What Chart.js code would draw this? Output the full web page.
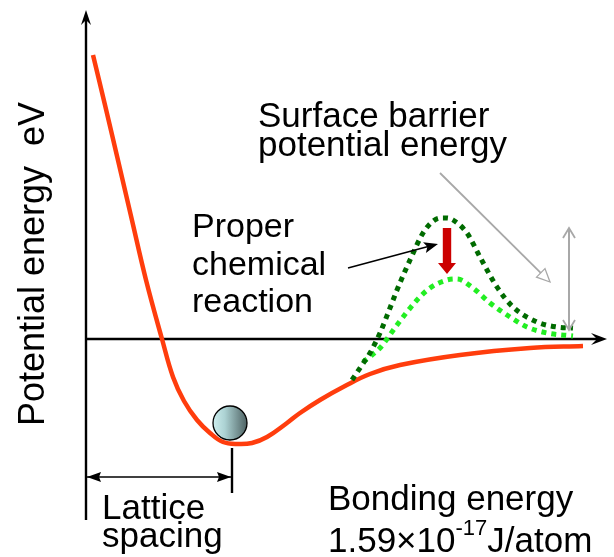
<!DOCTYPE html>
<html>
<head>
<meta charset="utf-8">
<script src="https://cdn.jsdelivr.net/npm/chart.js@4/dist/chart.umd.min.js"></script>
<style>
  html, body { margin: 0; padding: 0; background: #fff; }
  canvas { display: block; }
</style>
</head>
<body>
<canvas id="chart" width="614" height="557"></canvas>
<script>
// Interatomic potential energy versus separation (arbitrary units).
// x: atomic separation, y: potential energy (0 = free atom level)
const bondX = [0.07, 0.19, 0.31, 0.45, 0.60, 0.76, 0.87, 0.98, 1.11, 1.24, 1.37, 1.52,
               1.66, 1.81, 2.01, 2.14, 2.34, 2.59, 2.84, 3.14, 3.74, 4.44, 4.97];
const bondY = [2.84, 2.34, 1.83, 1.23, 0.59, 0.00, -0.38, -0.62, -0.81, -0.94, -1.03, -1.05,
               -1.04, -0.98, -0.84, -0.74, -0.61, -0.47, -0.35, -0.26, -0.16, -0.09, -0.07];

// Surface barrier before reaction
const barrierX = [2.66, 2.76, 2.84, 2.94, 3.04, 3.11, 3.24, 3.37, 3.46, 3.54, 3.61, 3.67,
                  3.81, 3.94, 4.11, 4.27, 4.51, 4.71, 4.87];
const barrierY = [-0.41, -0.26, -0.14, 0.06, 0.31, 0.49, 0.79, 1.06, 1.17, 1.21, 1.21, 1.19,
                  1.06, 0.82, 0.52, 0.32, 0.17, 0.12, 0.11];

// Lowered barrier with a proper chemical reaction
const loweredX = [2.77, 2.86, 2.94, 3.11, 3.31, 3.44, 3.61, 3.71, 3.87, 4.04, 4.21, 4.41, 4.61, 4.87];
const loweredY = [-0.23, -0.16, -0.09, 0.14, 0.39, 0.51, 0.59, 0.60, 0.51, 0.36, 0.24, 0.12, 0.06, 0.03];

// Equilibrium spacing (bottom of the well)
const latticeX = 1.46;

const FONT = '"Liberation Sans", Arial, Helvetica, sans-serif';
const RED = '#ff3d0d';
const DARK_GREEN = '#006b00';
const LIGHT_GREEN = '#22ee22';
const GREY = '#a8a8a8';

const toPoints = (xs, ys) => xs.map((x, i) => ({ x, y: ys[i] }));

// Annotation geometry, in data units
const notes = {
  yAxis: { x: 0, y0: -1.81, y1: 3.29 },
  xAxis: { y: 0, x0: 0, x1: 5.21 },
  lattice: { y: -1.38, tickTop: -1.09, tickBottom: -1.54 },
  ball: { x: 1.44, y: -0.84, r: 17 },
  drop: { x: 3.61, y0: 1.11, y1: 0.65 },
  pointer: { x0: 2.62, y0: 0.71, x1: 3.52, y1: 0.95 },
  diag: { x0: 3.54, y0: 1.66, x1: 4.64, y1: 0.57 },
  height: { x: 4.83, y0: 1.11, y1: 0.09 }
};

function stealthHead(ctx, x1, y1, x2, y2, len, half, notch, color) {
  const a = Math.atan2(y2 - y1, x2 - x1);
  const c = Math.cos(a), s = Math.sin(a);
  const bx = x2 - len * c, by = y2 - len * s;
  const nx = x2 - notch * c, ny = y2 - notch * s;
  ctx.beginPath();
  ctx.moveTo(x2, y2);
  ctx.lineTo(bx - half * s, by + half * c);
  ctx.lineTo(nx, ny);
  ctx.lineTo(bx + half * s, by - half * c);
  ctx.closePath();
  ctx.fillStyle = color;
  ctx.fill();
}

function line(ctx, x1, y1, x2, y2, color, w) {
  ctx.beginPath();
  ctx.moveTo(x1, y1);
  ctx.lineTo(x2, y2);
  ctx.strokeStyle = color;
  ctx.lineWidth = w;
  ctx.stroke();
}

function chevron(ctx, x1, y1, x2, y2, len, half, color, w) {
  const a = Math.atan2(y2 - y1, x2 - x1);
  const c = Math.cos(a), s = Math.sin(a);
  const bx = x2 - len * c, by = y2 - len * s;
  ctx.beginPath();
  ctx.moveTo(bx - half * s, by + half * c);
  ctx.lineTo(x2, y2);
  ctx.lineTo(bx + half * s, by - half * c);
  ctx.strokeStyle = color;
  ctx.lineWidth = w;
  ctx.stroke();
}

function text(ctx, str, x, y, size) {
  ctx.font = size + 'px ' + FONT;
  ctx.fillStyle = '#000';
  ctx.textBaseline = 'alphabetic';
  ctx.textAlign = 'left';
  ctx.fillText(str, x, y);
  return ctx.measureText(str).width;
}

const decor = {
  id: 'decor',
  beforeDatasetsDraw(chart) {
    const ctx = chart.ctx;
    const X = v => chart.scales.x.getPixelForValue(v);
    const Y = v => chart.scales.y.getPixelForValue(v);
    ctx.save();
    // axes
    const ya = notes.yAxis, xa = notes.xAxis;
    line(ctx, X(ya.x), Y(ya.y0), X(ya.x), Y(ya.y1) + 6, '#000', 2.4);
    stealthHead(ctx, X(ya.x), Y(ya.y1) + 20, X(ya.x), Y(ya.y1), 15, 5, 10, '#000');
    line(ctx, X(xa.x0), Y(xa.y), X(xa.x1) - 6, Y(xa.y), '#000', 2.4);
    stealthHead(ctx, X(xa.x1) - 20, Y(xa.y), X(xa.x1), Y(xa.y), 16, 6, 10, '#000');

    // lattice spacing dimension
    const lt = notes.lattice;
    line(ctx, X(0), Y(lt.y), X(latticeX), Y(lt.y), '#000', 1.5);
    stealthHead(ctx, X(latticeX), Y(lt.y), X(0) + 1, Y(lt.y), 14, 5, 12, '#000');
    stealthHead(ctx, X(0), Y(lt.y), X(latticeX) - 1, Y(lt.y), 14, 5, 12, '#000');
    line(ctx, X(latticeX), Y(lt.tickTop), X(latticeX), Y(lt.tickBottom), '#000', 2.4);
    ctx.restore();
  },
  afterDatasetsDraw(chart) {
    const ctx = chart.ctx;
    const X = v => chart.scales.x.getPixelForValue(v);
    const Y = v => chart.scales.y.getPixelForValue(v);
    ctx.save();

    // ball resting in the potential well
    const b = notes.ball;
    const cx = X(b.x), cy = Y(b.y);
    const g = ctx.createLinearGradient(cx - b.r, 0, cx + b.r, 0);
    g.addColorStop(0, '#cdeeee');
    g.addColorStop(0.35, '#acd2d3');
    g.addColorStop(1, '#4e6263');
    ctx.beginPath();
    ctx.arc(cx, cy, b.r, 0, Math.PI * 2);
    ctx.fillStyle = g;
    ctx.fill();
    ctx.lineWidth = 1.3;
    ctx.strokeStyle = '#000';
    ctx.stroke();

    // red arrow: barrier lowered
    const d = notes.drop;
    const dx = X(d.x), dTop = Y(d.y0), dTip = Y(d.y1);
    ctx.fillStyle = '#cc0000';
    ctx.beginPath();
    ctx.moveTo(dx - 4.2, dTop);
    ctx.lineTo(dx + 4.2, dTop);
    ctx.lineTo(dx + 4.2, dTip - 11);
    ctx.lineTo(dx + 9, dTip - 11);
    ctx.lineTo(dx, dTip);
    ctx.lineTo(dx - 9, dTip - 11);
    ctx.lineTo(dx - 4.2, dTip - 11);
    ctx.closePath();
    ctx.fill();

    // pointer from the reaction label
    const p = notes.pointer;
    line(ctx, X(p.x0), Y(p.y0), X(p.x1) - 8, Y(p.y1) + 2, '#000', 1.6);
    stealthHead(ctx, X(p.x0), Y(p.y0), X(p.x1), Y(p.y1), 14, 5.5, 11, '#000');

    // pointer from the barrier label (open head)
    const dg = notes.diag;
    const x0 = X(dg.x0), y0 = Y(dg.y0), x1 = X(dg.x1), y1 = Y(dg.y1);
    const ang = Math.atan2(y1 - y0, x1 - x0);
    const ca = Math.cos(ang), sa = Math.sin(ang);
    line(ctx, x0, y0, x1 - 12 * ca, y1 - 12 * sa, GREY, 1.8);
    ctx.beginPath();
    ctx.moveTo(x1, y1);
    ctx.lineTo(x1 - 13 * ca - 6 * sa, y1 - 13 * sa + 6 * ca);
    ctx.lineTo(x1 - 13 * ca + 6 * sa, y1 - 13 * sa - 6 * ca);
    ctx.closePath();
    ctx.fillStyle = '#fff';
    ctx.fill();
    ctx.strokeStyle = GREY;
    ctx.lineWidth = 1.3;
    ctx.stroke();

    // barrier height
    const h = notes.height;
    const hx = X(h.x), hy0 = Y(h.y0), hy1 = Y(h.y1);
    line(ctx, hx, hy0, hx, hy1, GREY, 2);
    chevron(ctx, hx, hy1, hx, hy0, 10, 6, GREY, 1.8);
    chevron(ctx, hx, hy0, hx, hy1, 10, 6, GREY, 1.8);

    // labels
    text(ctx, 'Surface barrier', 258, 127, 35);
    text(ctx, 'potential energy', 258, 156, 35);
    text(ctx, 'Proper', 192, 237, 34);
    text(ctx, 'chemical', 192, 275, 34);
    text(ctx, 'reaction', 192, 312, 34);
    text(ctx, 'Lattice', 102, 519, 35);
    text(ctx, 'spacing', 102, 547, 35);
    text(ctx, 'Bonding energy', 328, 510, 35);
    let w = text(ctx, '1.59\u00d710', 328, 552, 35);
    w += text(ctx, '-17', 328 + w, 535, 22);
    text(ctx, 'J/atom', 328 + w, 552, 35);

    ctx.save();
    ctx.translate(44, 264);
    ctx.rotate(-Math.PI / 2);
    ctx.font = '36px ' + FONT;
    ctx.fillStyle = '#000';
    ctx.textAlign = 'center';
    ctx.textBaseline = 'alphabetic';
    ctx.fillText('Potential energy  eV', 0, 0);
    ctx.restore();

    ctx.restore();
  }
};

new Chart(document.getElementById('chart'), {
  type: 'line',
  data: {
    datasets: [
      {
        label: 'Potential energy',
        data: toPoints(bondX, bondY),
        borderColor: RED,
        borderWidth: 4.5,
        pointRadius: 0,
        tension: 0.4,
        order: 3
      },
      {
        label: 'Surface barrier',
        data: toPoints(barrierX, barrierY),
        borderColor: DARK_GREEN,
        borderWidth: 5,
        borderDash: [5, 5],
        borderCapStyle: 'butt',
        pointRadius: 0,
        cubicInterpolationMode: 'monotone',
        order: 1
      },
      {
        label: 'Lowered barrier',
        data: toPoints(loweredX, loweredY),
        borderColor: LIGHT_GREEN,
        borderWidth: 5,
        borderDash: [5, 5],
        borderCapStyle: 'butt',
        pointRadius: 0,
        cubicInterpolationMode: 'monotone',
        order: 2
      }
    ]
  },
  options: {
    responsive: false,
    animation: false,
    events: [],
    layout: { padding: 0 },
    plugins: { legend: { display: false }, tooltip: { enabled: false }, title: { display: false } },
    scales: {
      x: { type: 'linear', min: -0.86, max: 5.28, display: false },
      y: { type: 'linear', min: -2.18, max: 3.39, display: false }
    }
  },
  plugins: [decor]
});
</script>
</body>
</html>
